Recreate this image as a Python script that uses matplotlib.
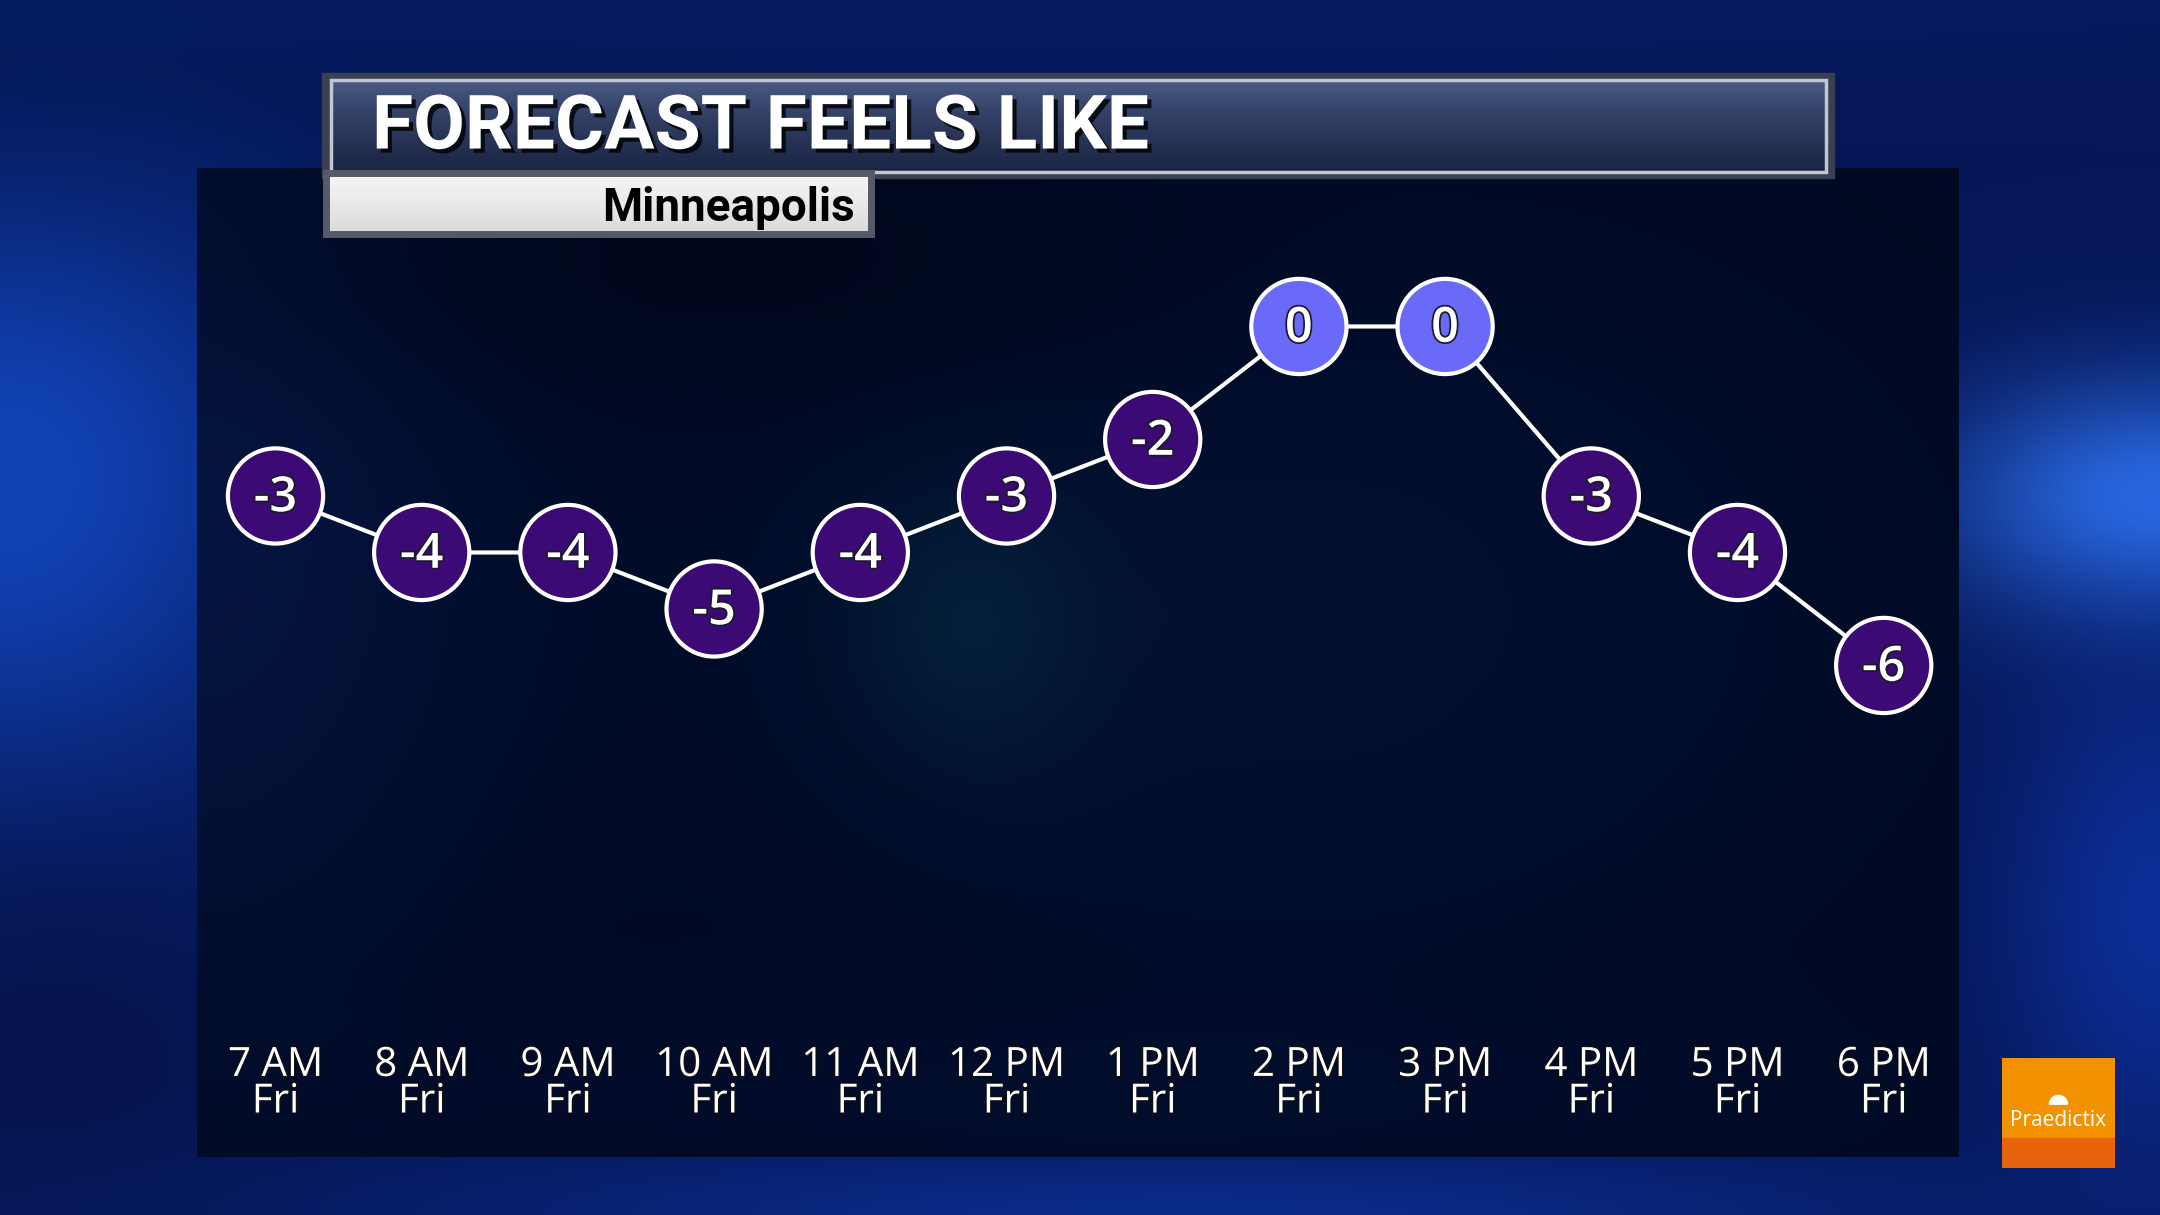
import matplotlib.pyplot as plt
import matplotlib.patheffects as pe
import numpy as np
from matplotlib.patches import Rectangle, Wedge

horas = ['7 AM', '8 AM', '9 AM', '10 AM', '11 AM', '12 PM',
         '1 PM', '2 PM', '3 PM', '4 PM', '5 PM', '6 PM']
dias = ['Fri'] * 12
sensacao = [-3, -4, -4, -5, -4, -3, -2, 0, 0, -3, -4, -6]

titulo = 'FORECAST FEELS LIKE'
cidade = 'Minneapolis'
marca = 'Praedictix'

W, H = 2160, 1215


def fundo(h, w, base, manchas):
    """Gera um gradiente RGB a partir de manchas gaussianas."""
    yy, xx = np.mgrid[0:1:h * 1j, 0:1:w * 1j]
    img = np.ones((h, w, 3)) * np.array(base)
    for cx, cy, sx, sy, cor, a in manchas:
        g = np.exp(-((xx - cx) ** 2 / (2 * sx ** 2) + (yy - cy) ** 2 / (2 * sy ** 2)))
        img = img + a * g[..., None] * (np.array(cor) - img)
    return np.clip(img, 0, 1)


def caixa(fig, x0, y0, x1, y1):
    """Axes em coordenadas de pixel (origem no topo)."""
    ax = fig.add_axes([x0 / W, 1 - y1 / H, (x1 - x0) / W, (y1 - y0) / H])
    ax.set_xlim(0, 1)
    ax.set_ylim(0, 1)
    ax.axis('off')
    return ax


fig = plt.figure(figsize=(W / 100, H / 100), dpi=100)

# fundo azul da tela
ax_bg = caixa(fig, 0, 0, W, H)
img_bg = fundo(243, 432, (0.02, 0.09, 0.34), [
    (0.0, 0.38, 0.10, 0.20, (0.08, 0.30, 0.80), 0.85),
    (0.02, 0.85, 0.08, 0.12, (0.02, 0.07, 0.28), 0.7),
    (0.0, 0.0, 0.15, 0.15, (0.01, 0.08, 0.30), 0.6),
    (1.0, 0.41, 0.07, 0.07, (0.18, 0.45, 0.95), 0.9),
    (1.0, 0.75, 0.05, 0.15, (0.06, 0.22, 0.70), 0.7),
    (0.55, 1.0, 0.25, 0.04, (0.05, 0.20, 0.62), 0.7),
    (0.5, 0.0, 0.6, 0.04, (0.03, 0.12, 0.42), 0.6),
])
ax_bg.imshow(img_bg, extent=[0, 1, 0, 1], aspect='auto', interpolation='bilinear')

# painel escuro
px0, py0, px1, py1 = 197, 168, 1959, 1157
ax_painel = caixa(fig, px0, py0, px1, py1)
img_painel = fundo(200, 360, (0.0, 0.035, 0.13), [
    (0.0, 0.35, 0.12, 0.35, (0.03, 0.10, 0.30), 0.7),
    (0.62, 0.45, 0.25, 0.30, (0.02, 0.08, 0.24), 0.6),
    (0.44, 0.46, 0.05, 0.10, (0.02, 0.20, 0.26), 0.45),
    (0.5, 0.95, 0.35, 0.08, (0.02, 0.06, 0.20), 0.5),
    (0.3, 0.1, 0.2, 0.1, (0.0, 0.02, 0.09), 0.6),
])
ax_painel.imshow(img_painel, extent=[0, 1, 0, 1], aspect='auto', interpolation='bilinear')

# grafico
ax = caixa(fig, px0, py0, px1, py1)
ax.axis('on')
ax.patch.set_alpha(0)
for s in ax.spines.values():
    s.set_visible(False)
ax.set_xticks([])
ax.set_yticks([])
x = np.arange(len(sensacao))
ax.set_xlim(-0.537, 11.515)
ax.set_ylim(-14.70, 2.805)

cores = ['#6a6af8' if v >= 0 else '#3c0a74' for v in sensacao]
ax.plot(x, sensacao, color='white', lw=3, zorder=2)
ax.scatter(x, sensacao, s=4700, c=cores, edgecolors='white', linewidths=3, zorder=3)

contorno = [pe.withStroke(linewidth=2.5, foreground='#1a1a2a')]
for xi, v in zip(x, sensacao):
    ax.text(xi, v - 0.05, str(v), ha='center', va='center', color='white',
            fontsize=35, family='Open Sans', fontweight='semibold',
            path_effects=contorno, zorder=4)

trans = ax.get_xaxis_transform()
sombra = [pe.withStroke(linewidth=1.5, foreground='#111111')]
for xi, hora, dia in zip(x, horas, dias):
    ax.text(xi, 0.082, hora, transform=trans, ha='center', va='baseline',
            color='white', fontsize=29, family='Open Sans', path_effects=sombra)
    ax.text(xi, 0.045, dia, transform=trans, ha='center', va='baseline',
            color='white', fontsize=29, family='Open Sans', path_effects=sombra)

# barra de titulo
ax_tit = caixa(fig, 326, 77, 1831, 175)
grad = np.linspace(0, 1, 100)[:, None, None]
topo = np.array([0.33, 0.40, 0.58])
base = np.array([0.10, 0.14, 0.26])
img_tit = topo * (1 - grad ** 0.6) + base * grad ** 0.6
ax_tit.imshow(img_tit * np.ones((1, 10, 1)), extent=[0, 1, 0, 1], aspect='auto')
ax_tit.add_patch(Rectangle((0, 0), 1, 1, fill=False, ec='#3a4050', lw=6,
                           transform=ax_tit.transAxes, clip_on=False))
ax_tit.add_patch(Rectangle((0.003, 0.03), 0.994, 0.94, fill=False, ec='#c0c6d2',
                           lw=2.5, transform=ax_tit.transAxes, clip_on=False))
ax_tit.text(46 / 1505, 0.27, titulo, ha='left', va='baseline', color='white',
            fontsize=54, fontweight='bold', family='Roboto',
            path_effects=[pe.withSimplePatchShadow(offset=(3, -3), shadow_rgbFace='black',
                                                   alpha=0.8)])

# caixa da cidade
ax_cid = caixa(fig, 326, 173, 871, 234)
img_cid = np.array([0.97, 0.97, 0.97]) * (1 - grad * 0.12)
ax_cid.imshow(img_cid * np.ones((1, 10, 1)), extent=[0, 1, 0, 1], aspect='auto')
ax_cid.add_patch(Rectangle((0, 0), 1, 1, fill=False, ec='#555a66', lw=5,
                           transform=ax_cid.transAxes, clip_on=False))
ax_cid.text(0.97, 0.22, cidade, ha='right', va='baseline', color='black',
            fontsize=33, fontweight='bold', family='Roboto')

# logotipo
ax_logo = caixa(fig, 2002, 1058, 2115, 1168)
ax_logo.add_patch(Rectangle((0, 0.27), 1, 0.73, color='#f39200'))
ax_logo.add_patch(Rectangle((0, 0), 1, 0.27, color='#e8640c'))
ax_logo.add_patch(Wedge((0.5, 0.58), 0.08, 0, 180, color='white'))
ax_logo.text(0.5, 0.43, marca, ha='center', va='center', color='white',
             fontsize=15, family='Open Sans')

fig.savefig('out.png', dpi=100)
